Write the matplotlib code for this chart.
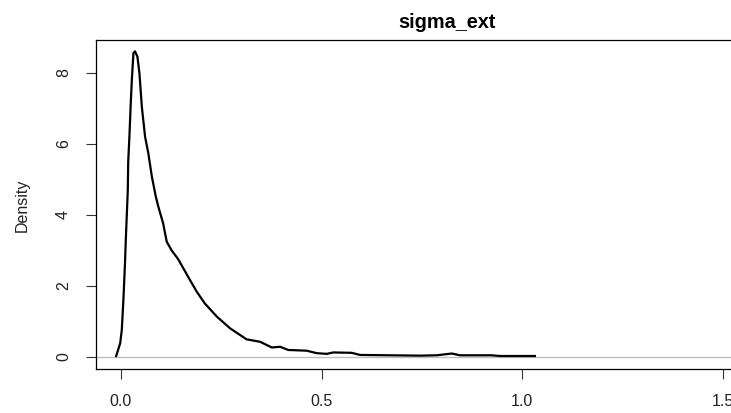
import matplotlib
matplotlib.use("Agg")
import matplotlib.pyplot as plt

# Density curve
sigma_x = [-0.012, -0.002, 0.002, 0.006, 0.010, 0.012, 0.017, 0.018, 0.021, 0.024,
           0.027, 0.031, 0.035, 0.041, 0.046, 0.052, 0.060, 0.068, 0.077, 0.087,
           0.093, 0.105, 0.114, 0.126, 0.143, 0.160, 0.172, 0.189, 0.209, 0.239,
           0.272, 0.313, 0.347, 0.376, 0.397, 0.417, 0.463, 0.488, 0.513, 0.529,
           0.575, 0.596, 0.746, 0.787, 0.825, 0.845, 0.924, 0.945, 1.032]
density = [0.02, 0.38, 0.75, 1.60, 2.64, 3.29, 4.70, 5.49, 6.20, 7.04,
           7.79, 8.55, 8.60, 8.45, 7.98, 7.04, 6.20, 5.74, 5.07, 4.50,
           4.23, 3.76, 3.24, 3.00, 2.74, 2.40, 2.16, 1.83, 1.50, 1.13,
           0.80, 0.49, 0.42, 0.26, 0.28, 0.19, 0.17, 0.10, 0.08, 0.12,
           0.11, 0.05, 0.03, 0.04, 0.09, 0.04, 0.04, 0.02, 0.02]
x_ticks = [0.0, 0.5, 1.0, 1.5]
x_tick_labels = ["0.0", "0.5", "1.0", "1.5"]
y_ticks = [0, 2, 4, 6, 8]
y_tick_labels = ["0", "2", "4", "6", "8"]
title = "sigma_ext"
ylabel = "Density"

plt.rcParams['font.family'] = ['Liberation Sans', 'DejaVu Sans']

W, H = 731, 413
fig = plt.figure(figsize=(W / 100, H / 100), dpi=100)
left, right, bottom, top = 96 / W, 798 / W, 1 - 369 / H, 1 - 40 / H
ax = fig.add_axes([left, bottom, right - left, top - bottom])

ax.axhline(0, color='#BEBEBE', lw=1.0, zorder=1)
ax.plot(sigma_x, density, color='black', lw=1.6, zorder=2, solid_joinstyle='round')

ax.set_xlim(-0.0623, 1.688)
ax.set_ylim(-0.346, 8.92)

ax.set_xticks(x_ticks)
ax.set_xticklabels(x_tick_labels)
ax.set_yticks(y_ticks)
ax.set_yticklabels(y_tick_labels, rotation=90, va='center')

ax.tick_params(axis='both', direction='out', length=7, width=0.8, color='#333333',
               labelsize=11.5, labelcolor='#222222')
ax.tick_params(axis='x', pad=11)
ax.tick_params(axis='y', pad=11)

for s in ax.spines.values():
    s.set_linewidth(0.9)
    s.set_color('black')

ax.set_title(title, fontsize=14.3, fontweight='bold', pad=9)
fig.text(22 / W, 1 - 205 / H, ylabel, rotation=90, va='center', ha='center',
         fontsize=11.5, color='#222222')

fig.savefig('out.png', dpi=100)
